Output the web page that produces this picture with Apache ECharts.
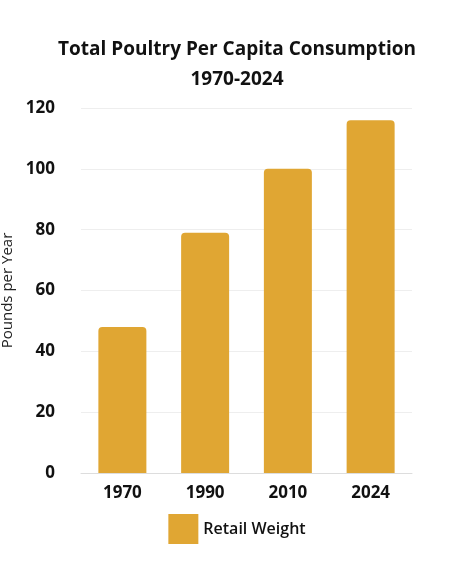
<!DOCTYPE html><html><head><meta charset="utf-8"><script src="https://cdn.jsdelivr.net/npm/echarts@6/dist/echarts.min.js"></script>
<style>html,body{margin:0;background:#fff}#c{width:474px;height:571px}</style></head><body><div id="c"></div><script>
const categories=['1970','1990','2010','2024'];
const values=[48,79,100,116];
const seriesName='Retail Weight';
const ch=echarts.init(document.getElementById('c'));
ch.setOption({
 title:{text:'Total Poultry Per Capita Consumption\n1970-2024',left:'center',top:30,textStyle:{fontFamily:'Open Sans',fontWeight:'bold',fontSize:19,color:'#111',lineHeight:30}},
 legend:{bottom:22,left:'center',itemWidth:30,itemHeight:30,itemGap:10,textStyle:{fontFamily:'Open Sans',fontSize:16,fontWeight:600,color:'#111'},data:[{name:seriesName,icon:'rect'}]},
 grid:{left:81,right:62,top:108,bottom:98,outerBoundsMode:'none',containLabel:false},
 xAxis:{type:'category',data:categories,axisTick:{show:false},axisLine:{lineStyle:{color:'#ddd'}},axisLabel:{fontFamily:'Open Sans',fontWeight:'bold',fontSize:17,color:'#111',margin:12}},
 yAxis:{type:'value',min:0,max:120,interval:20,name:'Pounds per Year',nameLocation:'middle',nameGap:50,nameTextStyle:{fontFamily:'Open Sans',fontSize:15,color:'#222'},axisLabel:{fontFamily:'Open Sans',fontWeight:'bold',fontSize:17,color:'#111',margin:26},splitLine:{lineStyle:{color:'#eee'}}},
 series:[{type:'bar',name:seriesName,data:values,barWidth:48,itemStyle:{color:'#E0A633',borderRadius:[4,4,0,0]}}]
});
</script></body></html>
